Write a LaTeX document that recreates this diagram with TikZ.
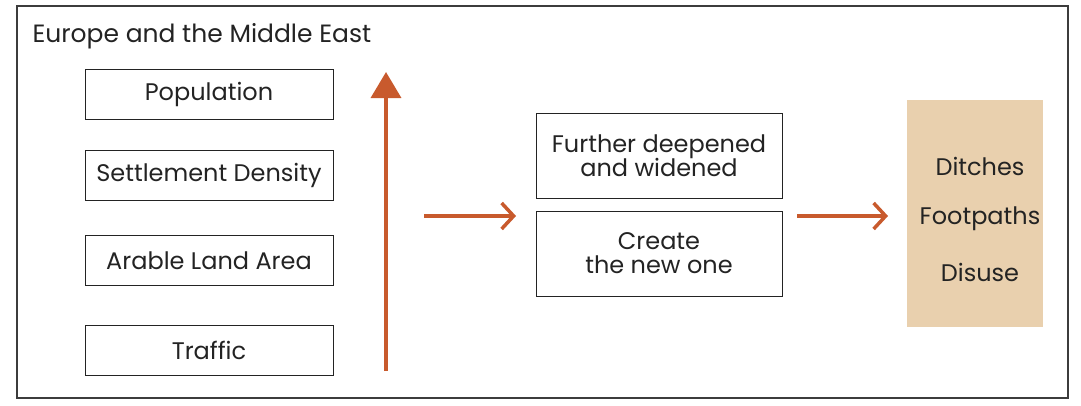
\documentclass[tikz,border=0pt]{standalone}
\usepackage{fontspec}
\setmainfont{Poppins}
\usetikzlibrary{arrows.meta}
\definecolor{arr}{RGB}{200,90,45}
\definecolor{beige}{RGB}{233,208,174}
\definecolor{frame}{RGB}{60,60,60}
\definecolor{txt}{RGB}{35,35,35}
\begin{document}
\begin{tikzpicture}[x=1pt,y=-1pt,
  lab/.style={font=\fontsize{24}{25}\selectfont, text=txt},
  lbox/.style={draw=txt, line width=1pt, minimum width=248pt, minimum height=50pt, inner sep=0pt, lab},
  mbox/.style={draw=txt, line width=1pt, minimum width=246pt, minimum height=85pt, inner sep=0pt, align=center, lab},
  arrline/.style={draw=arr, line width=3.5pt}]
\useasboundingbox (0,0) rectangle (1081,405);
\draw[frame, line width=2pt] (17,6) rectangle (1068,398);
\node[lab, font=\fontsize{25}{25}\selectfont, anchor=base west] (title) at (29,42) {Europe and the Middle East};
\node[lbox] (pop) at (209,94) {Population};
\node[lbox] (set) at (209,175) {Settlement Density};
\node[lbox] (ara) at (209,260.5) {Arable Land Area};
\node[lbox] (tra) at (209,350.5) {Traffic};
\coordinate (vb) at (386,371);
\coordinate (vt) at (386,72);
\draw[arrline, -{Triangle[width=30pt,length=26pt]}] (vb) -- (vt);
\node[mbox] (fur) at (659,155.5) {Further deepened\\[-1pt]and widened};
\node[mbox] (cre) at (659,253.5) {Create\\[-1pt]the new one};
\coordinate (a1s) at (424,216);
\coordinate (a1e) at (516,216);
\draw[arrline, -{Straight Barb[length=12pt,width=26pt,line width=3.5pt]}] (a1s) -- (a1e);
\coordinate (a2s) at (797,216);
\coordinate (a2e) at (888,216);
\draw[arrline, -{Straight Barb[length=12pt,width=26pt,line width=3.5pt]}] (a2s) -- (a2e);
\node[fill=beige, minimum width=136pt, minimum height=227pt, inner sep=0pt] (out) at (975,213.5) {};
\node[lab] (dit) at (980,166) {Ditches};
\node[lab] (foo) at (980,219) {Footpaths};
\node[lab] (dis) at (980,272) {Disuse};
\end{tikzpicture}
\end{document}
